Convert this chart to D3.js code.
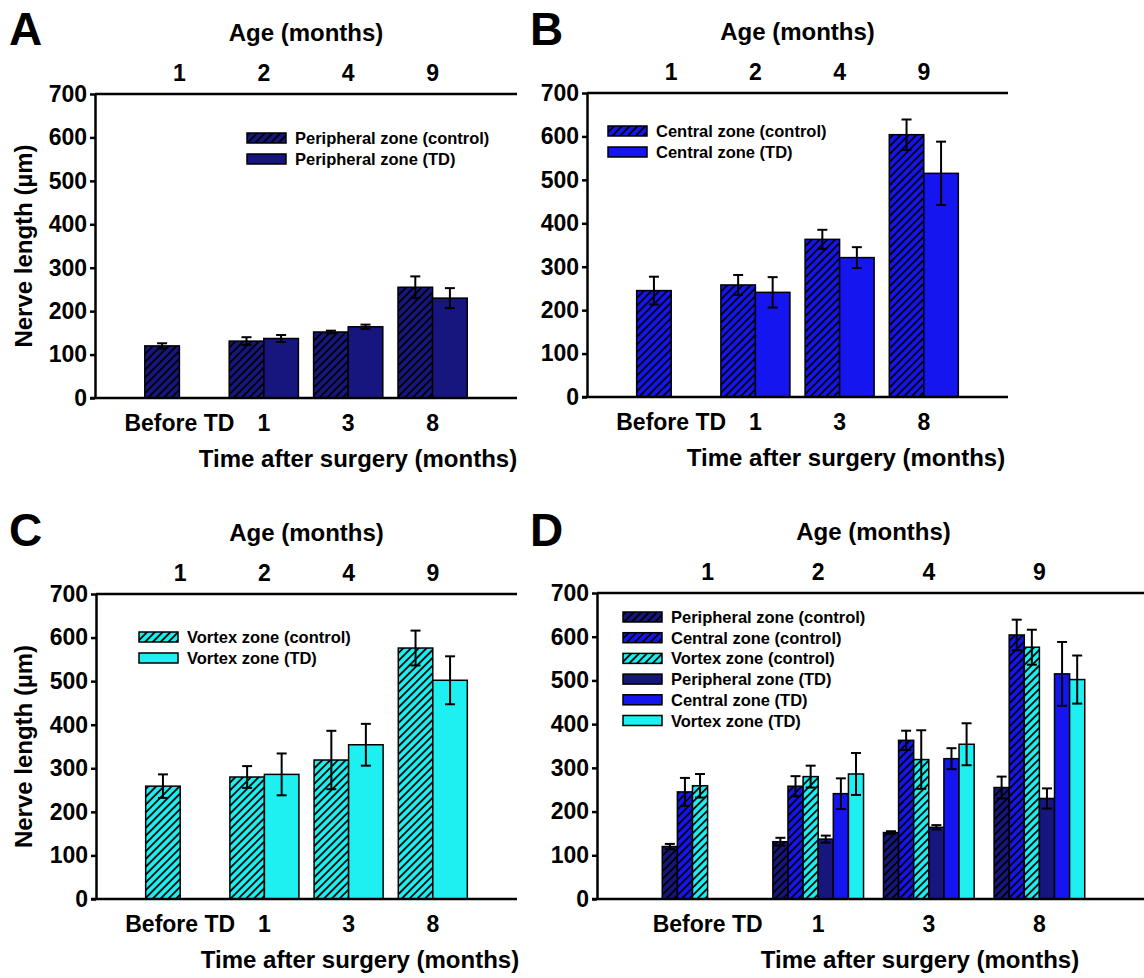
<!DOCTYPE html>
<html>
<head>
<meta charset="utf-8">
<script src="https://cdn.jsdelivr.net/npm/d3@7"></script>
<style>
  body { margin: 0; background: #fff; }
  text { font-family: "Liberation Sans", Arial, sans-serif; font-weight: bold; fill: #000; }
</style>
</head>
<body>
<svg id="fig" width="1144" height="978"></svg>
<script>
// Category labels
const timeLabels = ["Before TD", "1", "3", "8"];
const ageLabels = ["1", "2", "4", "9"];
const yTicks = [0, 100, 200, 300, 400, 500, 600, 700];

// Nerve length (µm), mean and error, per time point
const periphControl    = [120, 131, 152, 255];
const periphControlErr = [6, 9, 3, 25];
const periphTD         = [null, 137, 164, 230];
const periphTDErr      = [null, 8, 5, 23];
const centralControl    = [245, 258, 363, 604];
const centralControlErr = [32, 23, 22, 35];
const centralTD         = [null, 241, 321, 515];
const centralTDErr      = [null, 35, 24, 73];
const vortexControl    = [259, 280, 319, 576];
const vortexControlErr = [27, 25, 67, 40];
const vortexTD         = [null, 286, 354, 502];
const vortexTDErr      = [null, 48, 48, 55];

const zoneColor = { Peripheral: "#16167e", Central: "#1515f0", Vortex: "#1eeff0" };

function makeSeries(zone, kind, values, errors) {
  return { zone, kind, label: `${zone} zone (${kind})`, values, errors,
           color: zoneColor[zone], hatched: kind === "control" };
}
const sPC = makeSeries("Peripheral", "control", periphControl, periphControlErr);
const sPT = makeSeries("Peripheral", "TD", periphTD, periphTDErr);
const sCC = makeSeries("Central", "control", centralControl, centralControlErr);
const sCT = makeSeries("Central", "TD", centralTD, centralTDErr);
const sVC = makeSeries("Vortex", "control", vortexControl, vortexControlErr);
const sVT = makeSeries("Vortex", "TD", vortexTD, vortexTDErr);

const svg = d3.select("#fig");
svg.append("rect").attr("width", 1144).attr("height", 978).attr("fill", "#fff");

// Diagonal hatch for control bars
const defs = svg.append("defs");
Object.entries(zoneColor).forEach(([zone, c]) => {
  const p = defs.append("pattern")
    .attr("id", "hatch-" + zone)
    .attr("patternUnits", "userSpaceOnUse")
    .attr("width", 5.5).attr("height", 5.5)
    .attr("patternTransform", "rotate(45)");
  p.append("rect").attr("width", 5.5).attr("height", 5.5).attr("fill", c);
  p.append("line").attr("x1", 1).attr("x2", 1).attr("y1", 0).attr("y2", 5.5)
    .attr("stroke", "#000").attr("stroke-width", 1.8);
});
const fillOf = s => s.hatched ? `url(#hatch-${s.zone})` : s.color;

const panels = [
  { letter: "A", lx: 9, ly: 45, left: 95, right: 517, top: 94, bottom: 398, yTitle: true,
    series: [sPC, sPT], legX: 247, legY: 133, legStep: 21, timeX: 358 },
  { letter: "B", lx: 530, ly: 45, left: 587, right: 1008, top: 93, bottom: 397, yTitle: false,
    series: [sCC, sCT], legX: 608, legY: 126, legStep: 21, timeX: 846 },
  { letter: "C", lx: 9, ly: 546, left: 96, right: 517, top: 594, bottom: 899, yTitle: true,
    series: [sVC, sVT], legX: 139, legY: 632, legStep: 21, timeX: 360 },
  { letter: "D", lx: 530, ly: 546, left: 597, right: 1150, top: 593, bottom: 899, yTitle: false,
    series: [sPC, sCC, sVC, sPT, sCT, sVT], legX: 623, legY: 612, legStep: 20.7, timeX: 920 }
];

const groupHalf = 0.41;

panels.forEach(P => {
  const g = svg.append("g");
  const x = d3.scaleLinear().domain([0, 5]).range([P.left, P.right]);
  const y = d3.scaleLinear().domain([0, 700]).range([P.bottom, P.top]);
  const n = P.series.length;
  const bw = (2 * groupHalf) / n;

  // Panel letter
  g.append("text").attr("x", P.lx).attr("y", P.ly).attr("font-size", 46).text(P.letter);

  // Bars
  const bars = [];
  P.series.forEach((s, si) => {
    s.values.forEach((v, ci) => {
      if (v == null) return;
      const x0 = x(ci + 1 - groupHalf + si * bw);
      const x1 = x(ci + 1 - groupHalf + (si + 1) * bw);
      bars.push({ s, v, e: s.errors[ci], x0, x1 });
    });
  });
  g.append("g").selectAll("rect").data(bars).join("rect")
    .attr("x", d => d.x0).attr("width", d => d.x1 - d.x0)
    .attr("y", d => y(d.v)).attr("height", d => y(0) - y(d.v))
    .attr("fill", d => fillOf(d.s))
    .attr("stroke", "#000").attr("stroke-width", 1.5);

  // Error bars
  const eb = g.append("g").attr("stroke", "#000").attr("stroke-width", 2);
  bars.forEach(d => {
    const cx = (d.x0 + d.x1) / 2;
    eb.append("line").attr("x1", cx).attr("x2", cx).attr("y1", y(d.v - d.e)).attr("y2", y(d.v + d.e));
    [d.v - d.e, d.v + d.e].forEach(t =>
      eb.append("line").attr("x1", cx - 5).attr("x2", cx + 5).attr("y1", y(t)).attr("y2", y(t)));
  });

  // Y axis
  const ya = g.append("g").attr("transform", `translate(${P.left},0)`)
    .call(d3.axisLeft(y).tickValues(yTicks).tickSize(5).tickSizeOuter(0).tickPadding(3));
  ya.selectAll("path, line").attr("stroke", "#000").attr("stroke-width", 2.5);
  ya.selectAll("text").attr("font-size", 23).attr("font-family", "Liberation Sans, Arial, sans-serif")
    .attr("font-weight", "bold").attr("fill", "#000");

  // Bottom and top frame lines
  g.append("line").attr("x1", P.left - 5).attr("x2", P.right).attr("y1", y(0)).attr("y2", y(0))
    .attr("stroke", "#000").attr("stroke-width", 2.5);
  g.append("line").attr("x1", P.left).attr("x2", P.right).attr("y1", y(700)).attr("y2", y(700))
    .attr("stroke", "#000").attr("stroke-width", 2.5);

  // Category labels
  g.selectAll(".tl").data(timeLabels).join("text")
    .attr("x", (d, i) => x(i + 1)).attr("y", P.bottom + 33)
    .attr("text-anchor", "middle").attr("font-size", 23).text(d => d);
  g.selectAll(".al").data(ageLabels).join("text")
    .attr("x", (d, i) => x(i + 1)).attr("y", P.top - 13)
    .attr("text-anchor", "middle").attr("font-size", 23).text(d => d);

  // Axis titles
  g.append("text").attr("x", (P.left + P.right) / 2).attr("y", P.top - 53)
    .attr("text-anchor", "middle").attr("font-size", 24).text("Age (months)");
  g.append("text").attr("x", P.timeX).attr("y", P.bottom + 69)
    .attr("text-anchor", "middle").attr("font-size", 24).text("Time after surgery (months)");
  if (P.yTitle) {
    g.append("text").attr("transform", `translate(32,${(P.top + P.bottom) / 2}) rotate(-90)`)
      .attr("text-anchor", "middle").attr("font-size", 24).text("Nerve length (µm)");
  }

  // Legend
  const lg = g.append("g");
  P.series.forEach((s, i) => {
    const yy = P.legY + i * P.legStep;
    lg.append("rect").attr("x", P.legX).attr("y", yy).attr("width", 39).attr("height", 10)
      .attr("fill", fillOf(s)).attr("stroke", "#000").attr("stroke-width", 1.5);
    lg.append("text").attr("x", P.legX + 48).attr("y", yy + 11)
      .attr("font-size", 16.5).text(s.label);
  });
});
</script>
</body>
</html>
